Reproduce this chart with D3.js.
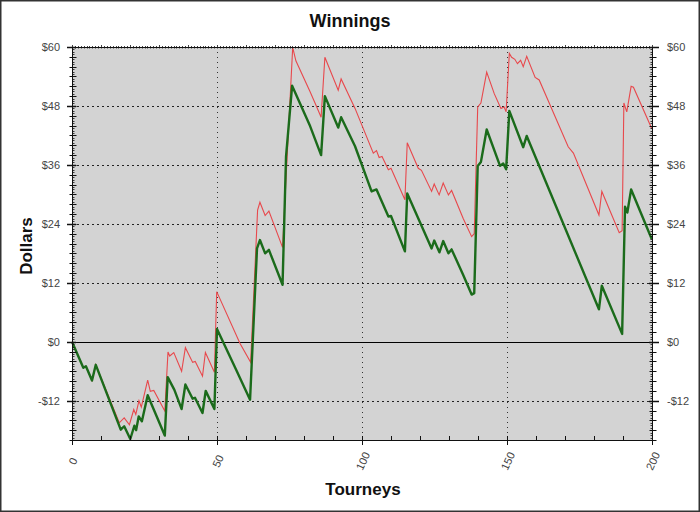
<!DOCTYPE html>
<html>
<head>
<meta charset="utf-8">
<script src="https://cdn.jsdelivr.net/npm/d3@7"></script>
<style>
  body { margin: 0; background: #fff; }
  svg { display: block; font-family: Arial, "Liberation Sans", sans-serif; }
</style>
</head>
<body>
<svg id="chart" width="700" height="512"></svg>
<script>
// tourney number, dollars (vertices)
const netWinnings = [
  [0, 0], [3.9, -5.3], [4.8, -5.0], [6.9, -7.9], [8.2, -4.7], [16.8, -17.9], [18, -17.2],
  [20.1, -19.8], [21.5, -17.1], [22.1, -18], [23, -15.2], [24.1, -16.2], [26.1, -10.9],
  [32, -19.1], [33, -7.2], [35.3, -9.8], [37.8, -13.7], [39.1, -8.7], [41.6, -11.6],
  [42.4, -11.4], [45, -14.5], [46.1, -10], [49.1, -13.7], [50, 2.6], [56.6, -5.7],
  [61.4, -11.8], [63.8, 19.0], [64.8, 20.7], [66.6, 18], [67.9, 18.7], [72.6, 11.6],
  [73.8, 37.7], [75.9, 52.1], [82.1, 43.9], [85.9, 38], [87.2, 50], [91.8, 43.6],
  [92.8, 45.7], [97.6, 39.8], [103.3, 30.6], [105, 31], [109.1, 25.5], [110, 25.6],
  [114.8, 18.4], [115.6, 30.2], [124, 19], [124.9, 20.6], [126.7, 18.2], [128, 20.5],
  [129.8, 18], [130.9, 18.8], [134.9, 13.6], [137.8, 9.6], [138.7, 9.9], [139.9, 35.8],
  [141, 36.6], [143, 43.2], [147.6, 35.8], [148.7, 36.3], [149.7, 35.1], [150.8, 47],
  [155.6, 39.6], [156.8, 41.9], [181.7, 6.6], [182.7, 11.4], [189.7, 1.6], [190.7, 27.5],
  [191.5, 26.3], [192.8, 31], [199.9, 20.9]
];

const grossWinnings = [
  [0, 0], [3.9, -5.3], [4.8, -5.0], [6.9, -7.9], [8.2, -4.7], [16.3, -16.5], [18, -15.5],
  [19.8, -16.9], [21.3, -13.8], [22, -14.8], [23.1, -12], [23.9, -13.3], [26.1, -7.8],
  [27, -10.1], [28.2, -9.9], [32, -14.1], [33.1, -2.1], [33.7, -2.9], [35.1, -2.2],
  [37.8, -6], [39.1, -1.2], [41.6, -4.2], [42.5, -4], [45, -7], [46, -2.2], [49.1, -6.2],
  [49.9, 10.2], [57.9, -0.3], [61.6, -4.2], [64, 26.8], [64.8, 28.4], [66.6, 25.7],
  [67.9, 26.6], [72.6, 19.2], [76.1, 59.9], [77.2, 57.2], [82.1, 50.9], [84.1, 48.2],
  [85.9, 45.7], [87.2, 57.9], [91.8, 51.2], [92.8, 53.5], [97.6, 47.5], [103.9, 38.4],
  [105, 38.9], [105.9, 37.5], [106.9, 37.7], [109.1, 35], [110, 35.3], [114.8, 28.9],
  [115.6, 40.5], [119.4, 35.3], [120.5, 34.9], [124, 30.6], [124.9, 32.1], [126.6, 29.9],
  [128, 32.3], [129.8, 29.9], [130.9, 30.8], [134.9, 25.1], [137.8, 21.4], [138.7, 22],
  [139.9, 47.8], [141, 48.6], [143, 54.9], [145.6, 50.5], [147.9, 47.5], [149, 47.8],
  [149.7, 46.8], [150.8, 58.7], [151.6, 57.9], [152.7, 57.5], [153.6, 56.6], [154.7, 57.3],
  [155.6, 56], [156.8, 58.1], [159.7, 53.8], [161.1, 53.3], [171.1, 39.7], [172.9, 38.4],
  [181.7, 25.8], [182.7, 30.6], [188.7, 22.2], [189.7, 22.6], [190.3, 48.6], [191.3, 46.8],
  [192.8, 52], [193.6, 51.8], [199.9, 43.4]
];

const xTicks = [0, 50, 100, 150, 200];
const yTicks = [-12, 0, 12, 24, 36, 48, 60];

const width = 700;
const height = 512;
const margin = { top: 47, right: 48, bottom: 72, left: 72 };

const x = d3.scaleLinear().domain([0, 200]).range([margin.left, width - margin.right]);
const y = d3.scaleLinear().domain([-20, 60]).range([height - margin.bottom, margin.top]);

const fmt = d => (d < 0 ? "-$" + (-d) : "$" + d);

const svg = d3.select("#chart");

// outer frame
svg.append("rect")
  .attr("x", 0.75).attr("y", 0.75)
  .attr("width", width - 1.5).attr("height", height - 1.5)
  .attr("fill", "#fff").attr("stroke", "#333").attr("stroke-width", 1.5);

// plot background
svg.append("rect")
  .attr("x", x(0)).attr("y", y(60))
  .attr("width", x(200) - x(0)).attr("height", y(-20) - y(60))
  .attr("fill", "#d3d3d3");

// grid
svg.append("g")
  .selectAll("line")
  .data(yTicks.filter(d => d !== 0 && d !== 60))
  .join("line")
  .attr("x1", x(0)).attr("x2", x(200))
  .attr("y1", d => Math.round(y(d)) + 0.5).attr("y2", d => Math.round(y(d)) + 0.5)
  .attr("stroke", "#222").attr("stroke-dasharray", "2,3");

svg.append("g")
  .selectAll("line")
  .data([50, 100, 150])
  .join("line")
  .attr("x1", d => Math.round(x(d)) + 0.5).attr("x2", d => Math.round(x(d)) + 0.5)
  .attr("y1", y(60)).attr("y2", y(-20))
  .attr("stroke", "#333").attr("stroke-dasharray", "1,4");

// zero line
svg.append("line")
  .attr("x1", x(0)).attr("x2", x(200))
  .attr("y1", Math.round(y(0)) + 0.5).attr("y2", Math.round(y(0)) + 0.5)
  .attr("stroke", "#000").attr("stroke-width", 1);

// series
const lineGen = d3.line().x(d => x(d[0])).y(d => y(d[1]));

svg.append("path")
  .datum(grossWinnings)
  .attr("d", lineGen)
  .attr("fill", "none")
  .attr("stroke", "#e8484c")
  .attr("stroke-width", 1.1);

svg.append("path")
  .datum(netWinnings)
  .attr("d", lineGen)
  .attr("fill", "none")
  .attr("stroke", "#1b6b1b")
  .attr("stroke-width", 2.4)
  .attr("stroke-linejoin", "round");

// axes frame
const frame = svg.append("g").attr("stroke", "#111").attr("fill", "none");
frame.append("line").attr("x1", x(0) + 0.5).attr("x2", x(0) + 0.5).attr("y1", y(60)).attr("y2", y(-20));
frame.append("line").attr("x1", x(200) + 0.5).attr("x2", x(200) + 0.5).attr("y1", y(60)).attr("y2", y(-20));
frame.append("line").attr("x1", x(0)).attr("x2", x(200)).attr("y1", y(-20) + 0.5).attr("y2", y(-20) + 0.5);
frame.append("line").attr("x1", x(0)).attr("x2", x(200)).attr("y1", y(60) + 0.5).attr("y2", y(60) + 0.5);

// left / right minor ticks ($2)
const yMinor = d3.range(-20, 61, 2);
[x(0) + 0.5, x(200) + 0.5].forEach(ax => {
  frame.append("g")
    .selectAll("line")
    .data(yMinor)
    .join("line")
    .attr("x1", ax - 3).attr("x2", ax + 4)
    .attr("y1", d => Math.round(y(d)) + 0.5).attr("y2", d => Math.round(y(d)) + 0.5);
  // tiny ticks ($0.5) on the inside
  frame.append("g")
    .selectAll("line")
    .data(d3.range(-20, 60.1, 0.5).filter(d => d % 2 !== 0))
    .join("line")
    .attr("x1", ax === x(0) + 0.5 ? ax : ax - 2).attr("x2", ax === x(0) + 0.5 ? ax + 2 : ax)
    .attr("y1", d => Math.round(y(d)) + 0.5).attr("y2", d => Math.round(y(d)) + 0.5)
    .attr("stroke-width", 0.8);
});

// major y ticks
frame.append("g")
  .selectAll("line")
  .data(yTicks)
  .join("line")
  .attr("x1", x(0) - 5).attr("x2", x(0) + 4)
  .attr("y1", d => Math.round(y(d)) + 0.5).attr("y2", d => Math.round(y(d)) + 0.5)
  .attr("stroke-width", 1.5);
frame.append("g")
  .selectAll("line")
  .data(yTicks)
  .join("line")
  .attr("x1", x(200) - 3).attr("x2", x(200) + 7)
  .attr("y1", d => Math.round(y(d)) + 0.5).attr("y2", d => Math.round(y(d)) + 0.5)
  .attr("stroke-width", 1.5);

// x ticks: bottom every 10, top tiny every 1
frame.append("g")
  .selectAll("line")
  .data(d3.range(0, 201, 10))
  .join("line")
  .attr("x1", d => Math.round(x(d)) + 0.5).attr("x2", d => Math.round(x(d)) + 0.5)
  .attr("y1", y(-20) - 4).attr("y2", d => y(-20) + (d % 50 === 0 ? 5 : 1));
frame.append("g")
  .selectAll("line")
  .data(d3.range(0, 201, 1))
  .join("line")
  .attr("x1", d => Math.round(x(d)) + 0.5).attr("x2", d => Math.round(x(d)) + 0.5)
  .attr("y1", d => y(60) - (d % 10 === 0 ? 2 : 1)).attr("y2", y(60) + 1.5)
  .attr("stroke-width", 0.8);

// y labels
svg.append("g")
  .selectAll("text")
  .data(yTicks)
  .join("text")
  .attr("x", x(0) - 12).attr("y", d => y(d) + 4)
  .attr("text-anchor", "end")
  .attr("font-size", 11).attr("fill", "#444")
  .text(fmt);
svg.append("g")
  .selectAll("text")
  .data(yTicks)
  .join("text")
  .attr("x", x(200) + 15).attr("y", d => y(d) + 4)
  .attr("text-anchor", "start")
  .attr("font-size", 11).attr("fill", "#444")
  .text(fmt);

// x labels (rotated)
svg.append("g")
  .selectAll("text")
  .data(xTicks)
  .join("text")
  .attr("transform", d => `translate(${x(d) + 1},${y(-20) + 21}) rotate(-65)`)
  .attr("text-anchor", "middle")
  .attr("dy", "0.35em")
  .attr("font-size", 11).attr("fill", "#444")
  .text(d => d);

// titles
svg.append("text")
  .attr("x", 350).attr("y", 27)
  .attr("text-anchor", "middle")
  .attr("font-size", 18).attr("font-weight", "bold").attr("fill", "#111")
  .text("Winnings");

svg.append("text")
  .attr("transform", `translate(32,246) rotate(-90)`)
  .attr("text-anchor", "middle")
  .attr("font-size", 17).attr("font-weight", "bold").attr("fill", "#111")
  .text("Dollars");

svg.append("text")
  .attr("x", 363).attr("y", 495)
  .attr("text-anchor", "middle")
  .attr("font-size", 17).attr("font-weight", "bold").attr("fill", "#111")
  .text("Tourneys");
</script>
</body>
</html>
